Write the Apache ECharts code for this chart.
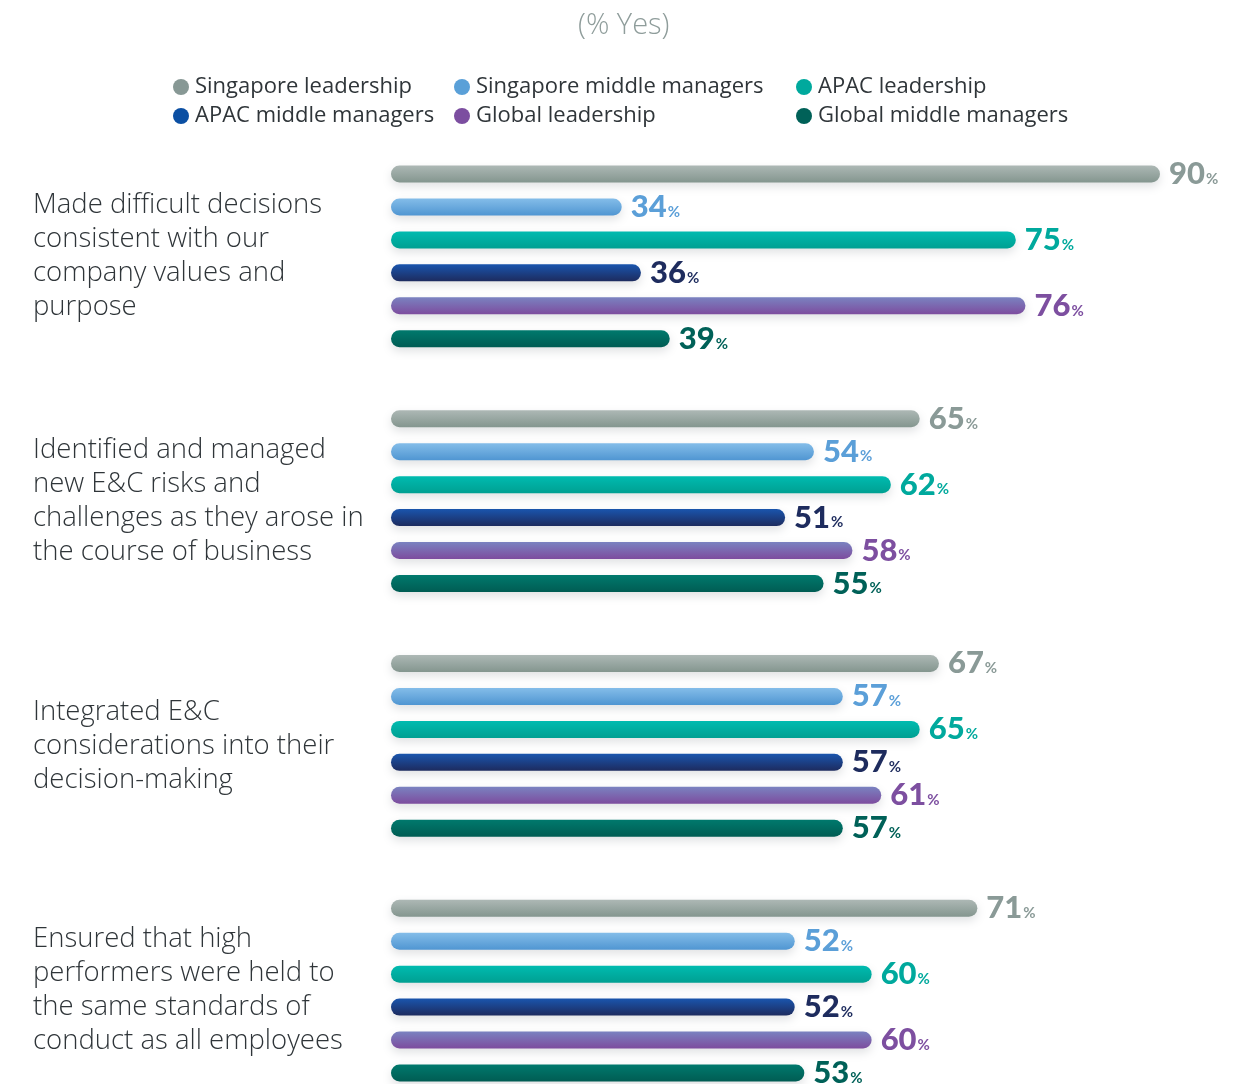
<!DOCTYPE html>
<html>
<head>
<meta charset="utf-8">
<title>E&amp;C decisions</title>
<script src="https://cdn.jsdelivr.net/npm/echarts@6/dist/echarts.min.js"></script>
<style>
  html, body { margin: 0; padding: 0; background: #ffffff; }
  #chart { width: 1258px; height: 1084px; }
</style>
</head>
<body>
<div id="chart"></div>
<script>
// Survey statements (y axis, top to bottom)
const categories = [
  'Made difficult decisions\nconsistent with our\ncompany values and\npurpose',
  'Identified and managed\nnew E&C risks and\nchallenges as they arose in\nthe course of business',
  'Integrated E&C\nconsiderations into their\ndecision-making',
  'Ensured that high\nperformers were held to\nthe same standards of\nconduct as all employees'
];

// Share answering "Yes", per respondent group
const singaporeLeadership = [90, 65, 67, 71];
const singaporeMiddle     = [34, 54, 57, 52];
const apacLeadership      = [75, 62, 65, 60];
const apacMiddle          = [36, 51, 57, 52];
const globalLeadership    = [76, 58, 61, 60];
const globalMiddle        = [39, 55, 57, 53];

const seriesNames = [
  'Singapore leadership', 'Singapore middle managers', 'APAC leadership',
  'APAC middle managers', 'Global leadership', 'Global middle managers'
];
const seriesValues = [
  singaporeLeadership, singaporeMiddle, apacLeadership,
  apacMiddle, globalLeadership, globalMiddle
];

// swatch colour, gradient top, gradient bottom, label colour
const palette = [
  { swatch: '#879895', top: '#adb8b5', bottom: '#84968f', label: '#8a9a97' },
  { swatch: '#5aa0d8', top: '#84bde9', bottom: '#5096d2', label: '#5b9fd8' },
  { swatch: '#00a99d', top: '#00bbb0', bottom: '#00a092', label: '#00a99d' },
  { swatch: '#0b4fa3', top: '#1a55ad', bottom: '#1d2b5e', label: '#1e2c5e' },
  { swatch: '#7c4ea0', top: '#7a82c0', bottom: '#7d4c9e', label: '#7d4fa0' },
  { swatch: '#006158', top: '#00796d', bottom: '#005c53', label: '#006158' }
];

const TEXT_FONT = '"Open Sans", "Noto Sans", sans-serif';
const NUM_FONT = 'Lato, "Open Sans", sans-serif';

const chart = echarts.init(document.getElementById('chart'), null, { renderer: 'canvas' });

const series = seriesNames.map((name, i) => ({
  name: name,
  type: 'bar',
  data: seriesValues[i],
  barWidth: 17,
  barGap: '94%',
  itemStyle: {
    borderRadius: 8.5,
    color: new echarts.graphic.LinearGradient(0, 0, 0, 1, [
      { offset: 0, color: palette[i].top },
      { offset: 1, color: palette[i].bottom }
    ]),
    shadowBlur: 10,
    shadowOffsetY: 4,
    shadowColor: 'rgba(60, 70, 80, 0.16)'
  },
  label: {
    show: true,
    position: 'right',
    distance: 9,
    formatter: p => '{n|' + p.value + '}{p|%}',
    rich: {
      n: { fontFamily: NUM_FONT, fontWeight: 900, fontSize: 31, color: palette[i].label },
      p: { fontFamily: NUM_FONT, fontWeight: 700, fontSize: 15, color: palette[i].label, padding: [10, 0, 0, 1] }
    }
  },
  emphasis: { disabled: true }
}));

const legendGroups = [
  { left: 168, items: [0, 3] },
  { left: 449, items: [1, 4] },
  { left: 791, items: [2, 5] }
];

chart.setOption({
  animation: false,
  backgroundColor: '#ffffff',
  color: palette.map(p => p.swatch),
  title: {
    text: '(% Yes)',
    left: 573,
    top: 6,
    textStyle: { fontFamily: TEXT_FONT, fontWeight: 300, fontSize: 29, color: '#8f9d9b' }
  },
  legend: legendGroups.map(g => ({
    orient: 'vertical',
    left: g.left,
    top: 71,
    itemGap: 7,
    itemWidth: 16,
    itemHeight: 16,
    icon: 'circle',
    selectedMode: false,
    data: g.items.map(k => ({ name: seriesNames[k], itemStyle: { color: palette[k].swatch } })),
    textStyle: { fontFamily: TEXT_FONT, fontWeight: 400, fontSize: 22, color: '#2f3539', padding: [0, 0, 0, 1] }
  })),
  grid: { left: 391, top: 134, width: 769, height: 979, outerBoundsMode: 'none' },
  xAxis: {
    type: 'value',
    min: 10,
    max: 90,
    show: false,
    splitLine: { show: false }
  },
  yAxis: {
    type: 'category',
    data: categories,
    inverse: true,
    axisLine: { show: false },
    axisTick: { show: false },
    splitLine: { show: false },
    axisLabel: {
      align: 'left',
      margin: 358,
      fontFamily: TEXT_FONT,
      fontWeight: 300,
      fontSize: 27.5,
      lineHeight: 34,
      color: '#2f3539'
    }
  },
  series: series
});
</script>
</body>
</html>
